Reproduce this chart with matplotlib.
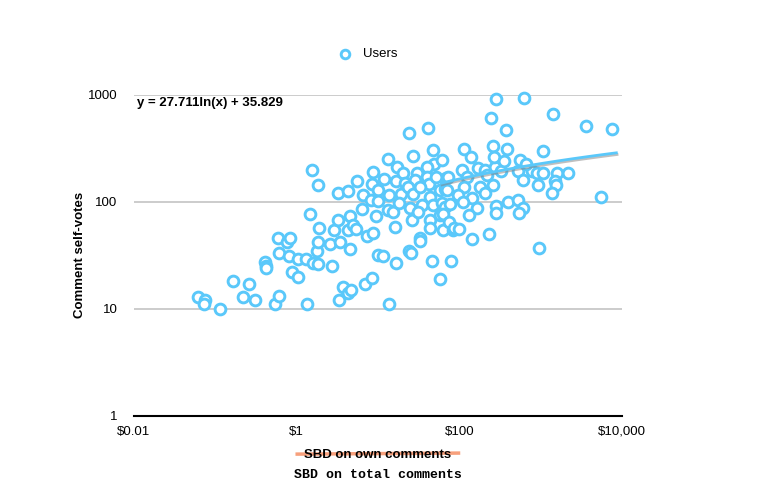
import numpy as np
import matplotlib
matplotlib.use('Agg')
import matplotlib.pyplot as plt
import matplotlib.patheffects as pe
from matplotlib.lines import Line2D
from matplotlib.ticker import FixedLocator, NullLocator

# SBD earned on own comments (x) and number of comment self-votes (y), one per user
sbd_own = [
    0.061, 0.075, 0.073, 0.114, 0.165, 0.22, 0.26, 0.31, 0.41, 0.42,
    0.42, 0.54, 0.61, 0.59, 0.61, 0.76, 0.83, 0.81, 0.88, 1.05,
    1.05, 1.31, 1.34, 1.55, 1.83, 1.46, 1.59, 1.83, 1.78, 1.83,
    1.88, 2.58, 2.73, 2.88, 3.23, 3.23, 3.42, 3.34, 3.72, 4.29,
    4.67, 4.29, 4.55, 4.29, 4.94, 5.38, 4.55, 5.53, 6.36, 6.54,
    6.9, 7.34, 8.4, 8.7, 8.7, 8.4, 8.1, 9.4, 10, 11.5,
    10, 10, 11.9, 13.3, 13.7, 13.3, 15.3, 16.2, 16.6, 13.7,
    17.1, 16.6, 27, 47.5, 49, 40.3, 20.3, 21.4, 30.3, 28.6,
    40.3, 42.6, 19.1, 23.4, 27, 33, 43.8, 58, 67, 69,
    52, 34.9, 47.5, 60.5, 67, 18.2, 24.8, 26.3, 31.1, 43.8,
    58, 43.8, 33, 63, 24.1, 25.5, 33, 46, 79, 83,
    58, 24.1, 41.4, 108, 170, 208, 276, 326, 530, 786,
    905, 1073, 1595, 2180, 72.8, 125, 220, 609, 1508, 1550,
    932, 260, 180, 115, 71, 208, 1385, 97, 144, 77,
    111, 165, 132, 284, 284, 398, 530, 609, 546, 63,
    74.9, 86, 99, 144, 233, 960, 5530, 284, 630, 246,
    376, 1425, 3630, 7570, 260, 386, 115, 140, 267, 356,
    560, 1073, 60.5, 660,
]
self_votes = [
    13, 12, 11, 10, 18, 13, 17, 12, 27.5, 25,
    24, 11, 13.2, 46, 33, 42, 46, 31, 22, 20,
    29, 29, 11, 196, 144, 77, 27, 26, 35, 42,
    57, 40, 25, 55, 121, 68, 42, 12, 16, 14,
    15, 127, 74, 55, 61, 56, 36, 157, 86, 116,
    17, 48, 19.4, 51, 191, 147, 104, 74, 32, 31,
    129, 102, 164, 252, 116, 84, 81, 58, 27, 11,
    213, 157, 269, 306, 226, 213, 187, 150, 187, 160,
    171, 147, 119, 138, 119, 138, 112, 129, 132, 168,
    171, 94, 94, 98, 90, 98, 88, 68, 81, 68,
    76, 57, 46, 55, 35, 33, 43, 28, 28, 55,
    19, 441, 491, 199, 208, 199, 213, 195, 195, 195,
    187, 187, 187, 187, 171, 171, 179, 160, 157, 144,
    144, 144, 138, 138, 129, 121, 121, 116, 109, 96,
    100, 88, 76, 92, 79, 100, 104, 88, 79, 77,
    65, 57, 56, 45, 50, 37, 112, 918, 937, 610,
    471, 664, 513, 481, 333, 313, 313, 263, 263, 242,
    247, 300, 247, 227,
]

# logarithmic trendline shown on the chart
trend_a = 27.711
trend_b = 35.829
trend_x_range = [60, 8500]

x_ticks = [0.01, 1, 100, 10000]
x_tick_labels = ['$0.01', '$1', '$100', '$10,000']
y_ticks = [1, 10, 100, 1000]
y_tick_labels = ['1', '10', '100', '1000']

blue = '#5AC8FA'
plt.rcParams['font.family'] = ['Liberation Sans', 'DejaVu Sans']

fig = plt.figure(figsize=(7.68, 5.04), dpi=100)
ax = fig.add_axes([0.1745, 0.175, 0.6355, 0.637])

ax.scatter(sbd_own, self_votes, s=60, facecolors='white', edgecolors=blue,
           linewidths=2.1, zorder=3, clip_on=False, label='Users')

tx = np.geomspace(trend_x_range[0], trend_x_range[1], 100)
ty = trend_a * np.log(tx) + trend_b
ax.plot(tx, ty, color=blue, lw=2, zorder=4,
        path_effects=[pe.SimpleLineShadow(offset=(0.5, -1.2), shadow_color='gray', alpha=0.5),
                      pe.Normal()])

ax.set_xscale('log')
ax.set_yscale('log')
ax.set_xlim(0.01, 10000)
ax.set_ylim(1, 1000)

ax.xaxis.set_major_locator(FixedLocator(x_ticks))
ax.xaxis.set_minor_locator(NullLocator())
ax.set_xticklabels(x_tick_labels)
ax.yaxis.set_major_locator(FixedLocator(y_ticks))
ax.yaxis.set_minor_locator(NullLocator())
ax.set_yticklabels(y_tick_labels)
ax.tick_params(axis='both', length=0, labelsize=9.5, colors='black')
ax.tick_params(axis='x', pad=7)
ax.tick_params(axis='y', pad=12)

for yv in y_ticks[1:]:
    ax.axhline(yv, color='#c4c4c4', lw=1.2, zorder=1)

for side in ['top', 'right', 'left']:
    ax.spines[side].set_visible(False)
ax.spines['bottom'].set_color('black')
ax.spines['bottom'].set_linewidth(1.5)

ax.set_ylabel('Comment self-votes', fontsize=9.5, fontweight='bold', labelpad=1)

fig.text(0.178, 0.796, 'y = 27.711ln(x) + 35.829', fontsize=9.5,
         fontweight='bold', ha='left', va='center')

# x labels: old one struck through, new one in monospace
fig.text(0.492, 0.097, 'SBD on own comments', fontsize=9.5,
         fontweight='bold', ha='center', va='center')
fig.add_artist(Line2D([0.387, 0.597], [0.099, 0.101], color='#F7A07C',
                      lw=2.5, transform=fig.transFigure))
fig.text(0.492, 0.057, 'SBD on total comments', fontsize=9.5,
         fontweight='bold', family='Liberation Mono', ha='center', va='center')

fig.legend(loc='center', bbox_to_anchor=(0.475, 0.893), frameon=False,
           fontsize=9.5, handletextpad=0.4, markerscale=0.8)

fig.savefig('out.png', dpi=100)
